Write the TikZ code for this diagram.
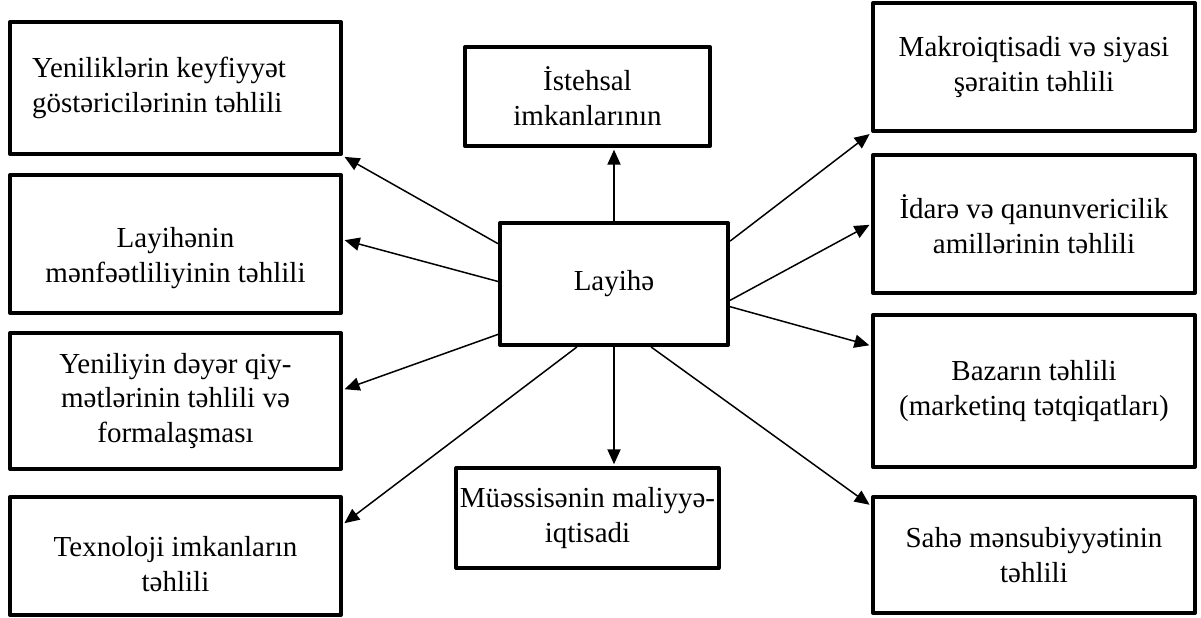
\documentclass[tikz,border=0pt]{standalone}
\usepackage{fontspec}
\setmainfont{Liberation Serif}
\usetikzlibrary{arrows.meta,calc}

\begin{document}
\begin{tikzpicture}[x=0.02cm,y=-0.02cm,->,>={Triangle[length=8.5pt,width=7.5pt]},
                    line width=0.85pt,shorten >=1pt,
                    font=\fontsize{16.5}{19.9}\selectfont]
  \tikzstyle{box}=[rectangle,draw=black,fill=white,line width=2.3pt,line join=round,
                   align=center,inner sep=2pt]
  \tikzstyle{lbox}=[box,minimum width=6.62cm]
  \tikzstyle{rbox}=[box,minimum width=6.44cm]
  \tikzstyle{mbox}=[box,minimum width=4.9cm,minimum height=2cm]

  \useasboundingbox (0,0) rectangle (1201,618);

  % left column
  \node[lbox,minimum height=2.64cm,align=flush left,inner xsep=0.44cm,text width=5.74cm] (l1) at (175.5,88)  {Yeniliklərin keyfiyyət\\göstəricilərinin təhlili};
  \node[lbox,minimum height=2.76cm] (l2) at (175.5,244) {\rule{0pt}{28pt}Layihənin\\mənfəətliliyinin təhlili};
  \node[lbox,minimum height=2.72cm] (l3) at (175.5,401) {Yeniliyin dəyər qiy-\\mətlərinin təhlili və\\formalaşması};
  \node[lbox,minimum height=2.36cm] (l4) at (175.5,556) {\rule{0pt}{21pt}Texnoloji imkanların\\təhlili};

  % middle
  \node[mbox,minimum height=1.98cm] (t) at (587.5,96.5) {İstehsal\\imkanlarının};
  \node[box,minimum width=4.56cm,minimum height=2.44cm] (c) at (614,284) {Layihə};
  \node[mbox] (b) at (587.5,518) {Müəssisənin maliyyə-\\iqtisadi};

  % right column
  \node[rbox,minimum height=2.56cm] (r1) at (1034,67)  {Makroiqtisadi və siyasi\\şəraitin təhlili};
  \node[rbox,minimum height=2.76cm] (r2) at (1034,224) {İdarə və qanunvericilik\\amillərinin təhlili};
  \node[rbox,minimum height=3.04cm] (r3) at (1034,391) {Bazarın təhlili\\(marketinq tətqiqatları)};
  \node[rbox,minimum height=2.32cm] (r4) at (1034,555) {Sahə mənsubiyyətinin\\təhlili};

  \draw ($(c.north west)!0.18!(c.south west)$) -- (l1.south east);
  \draw ($(c.north west)!0.48!(c.south west)$) -- ($(l2.north east)!0.47!(l2.south east)$);
  \draw ($(c.north west)!0.90!(c.south west)$) -- ($(l3.north east)!0.42!(l3.south east)$);
  \draw ($(c.south west)!0.34!(c.south east)$) -- ($(l4.north east)!0.24!(l4.south east)$);
  \draw (c.north) -- (c.north |- t.south);
  \draw (c.south) -- (c.south |- b.north);
  \draw ($(c.north east)!0.16!(c.south east)$) -- (r1.south west);
  \draw ($(c.north east)!0.63!(c.south east)$) -- (r2.west);
  \draw ($(c.north east)!0.68!(c.south east)$) -- ($(r3.north west)!0.21!(r3.south west)$);
  \draw ($(c.south west)!0.66!(c.south east)$) -- ($(r4.north west)!0.09!(r4.south west)$);
\end{tikzpicture}
\end{document}
